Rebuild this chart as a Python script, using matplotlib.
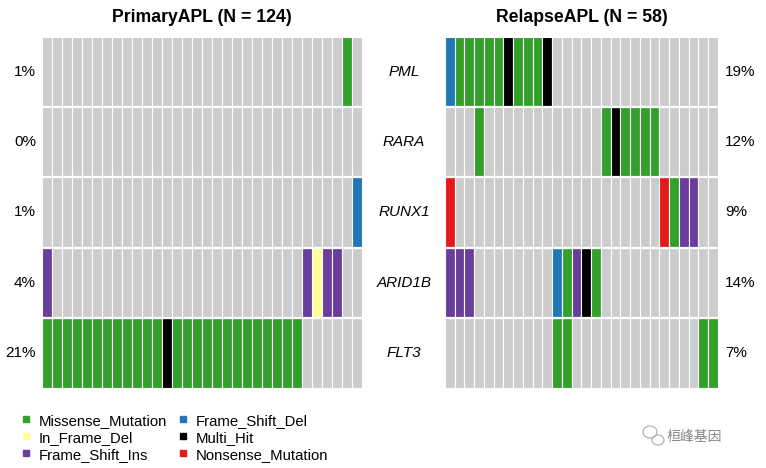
import matplotlib
matplotlib.use("Agg")
import matplotlib.pyplot as plt
from matplotlib.lines import Line2D
from matplotlib.patches import Ellipse
import numpy as np

plt.rcParams['font.family'] = ['Liberation Sans', 'DejaVu Sans']

genes = ["PML", "RARA", "RUNX1", "ARID1B", "FLT3"]

# one character per mutated sample (column), '.' = not mutated
# M missense, D frame shift del, I in frame del, H multi hit, S frame shift ins, N nonsense
primary_n = 124
primary = [
    "." * 30 + "M" + ".",
    "." * 32,
    "." * 31 + "D",
    "S" + "." * 25 + "SISS" + "..",
    "M" * 12 + "H" + "M" * 13 + "." * 6,
]
relapse_n = 58
relapse = [
    "D" + "MMMMM" + "H" + "MMM" + "H" + "." * 17,
    "...M" + "." * 12 + "MH" + "MMMM" + "." * 6,
    "N" + "." * 21 + "NMSS" + "..",
    "SSS" + "." * 8 + "DMSHM" + "." * 12,
    "." * 11 + "MM" + "." * 13 + "MM",
]

var_names = {"M": "Missense_Mutation", "I": "In_Frame_Del", "S": "Frame_Shift_Ins",
             "D": "Frame_Shift_Del", "H": "Multi_Hit", "N": "Nonsense_Mutation"}
var_cols = {".": "#CCCCCC", "M": "#33A02C", "I": "#FFFF99", "S": "#6A3D9A",
            "D": "#1F78B4", "H": "#000000", "N": "#E31A1C"}
legend_order = ["M", "I", "S", "D", "H", "N"]

W, H = 766, 468
fig = plt.figure(figsize=(W / 100, H / 100), dpi=100)


def px_axes(x0, y0, x1, y1):
    return fig.add_axes([x0 / W, 1 - y1 / H, (x1 - x0) / W, (y1 - y0) / H])


def draw_panel(ax, rows):
    ncol = len(rows[0])
    for i, row in enumerate(rows):
        for j, code in enumerate(row):
            ax.bar(j + 0.5, 1, width=1, bottom=i, color=var_cols[code],
                   edgecolor="white", linewidth=0.8)
    for i in range(1, len(rows)):
        ax.axhline(i, color="white", lw=1.6)
    ax.set_xlim(0, ncol)
    ax.set_ylim(len(rows), 0)
    ax.axis("off")


axL = px_axes(42, 37, 362, 388)
axR = px_axes(445, 37, 718, 388)
draw_panel(axL, primary)
draw_panel(axR, relapse)

axL.set_title("PrimaryAPL (N = %d)" % primary_n, fontsize=12.7, fontweight="bold", pad=11)
axR.set_title("RelapseAPL (N = %d)" % relapse_n, fontsize=12.7, fontweight="bold", pad=11)

for i, g in enumerate(genes):
    pl = sum(c != "." for c in primary[i]) / primary_n * 100
    pr = sum(c != "." for c in relapse[i]) / relapse_n * 100
    axL.text(-0.6, i + 0.5, "%d%%" % round(pl), ha="right", va="center", fontsize=11)
    axR.text(len(relapse[0]) + 0.75, i + 0.5, "%d%%" % round(pr), ha="left", va="center", fontsize=11)
    fig.text(404 / W, 1 - (37 + (i + 0.5) * 70.2) / H, g, ha="center", va="center",
             fontsize=11, style="italic")

# legend, two columns of three
leg_x = [26, 183]
leg_y = [421, 438, 455]
for k, code in enumerate(legend_order):
    cx = leg_x[k // 3]
    cy = leg_y[k % 3]
    fig.add_artist(Line2D([cx / W], [1 - (cy - 2) / H], marker="s", ls="", markersize=5,
                          color=var_cols[code], transform=fig.transFigure))
    fig.text((cx + 13) / W, 1 - cy / H, var_names[code], ha="left", va="center", fontsize=10.7)

# watermark
fig.patches.append(Ellipse((650 / W, 1 - 432 / H), 14 / W, 12 / H, fill=False,
                           ec="#AAAAAA", lw=0.8, transform=fig.transFigure))
fig.patches.append(Ellipse((658 / W, 1 - 440 / H), 12 / W, 10 / H, fill=False,
                           ec="#AAAAAA", lw=0.8, transform=fig.transFigure))
fig.text(694 / W, 1 - 437 / H, "桓峰基因", ha="center", va="center", fontsize=10,
         color="#888888", family=["Noto Sans CJK SC", "DejaVu Sans"])

fig.savefig("out.png", dpi=100)
